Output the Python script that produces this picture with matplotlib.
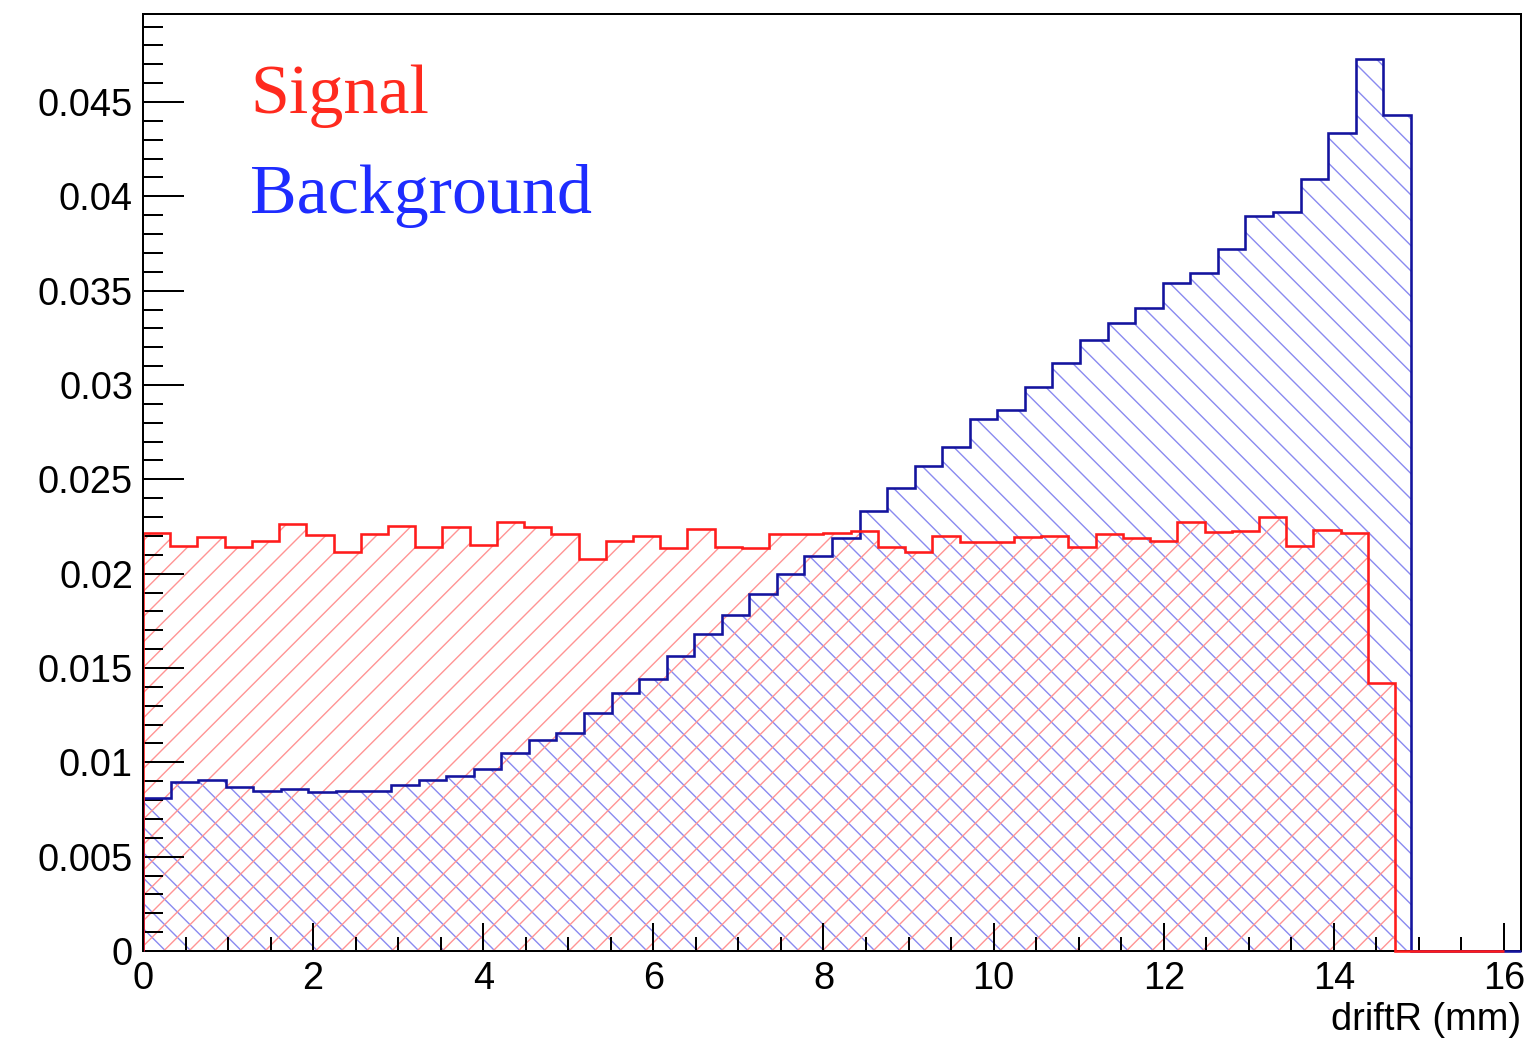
import numpy as np
import matplotlib
matplotlib.use("Agg")
import matplotlib.pyplot as plt
from matplotlib.ticker import MultipleLocator, FuncFormatter

# Normalised driftR distributions (50 bins each)
signal = [
    0.02216, 0.02145, 0.02195, 0.02140, 0.02175, 0.02264, 0.02204, 0.02115, 0.02211, 0.02255,
    0.02142, 0.02246, 0.02151, 0.02276, 0.02249, 0.02208, 0.02080, 0.02175, 0.02200, 0.02134,
    0.02236, 0.02144, 0.02136, 0.02211, 0.02211, 0.02218, 0.02226, 0.02139, 0.02115, 0.02202,
    0.02166, 0.02166, 0.02196, 0.02202, 0.02142, 0.02211, 0.02190, 0.02175, 0.02274, 0.02221,
    0.02228, 0.02303, 0.02145, 0.02234, 0.02213, 0.01421, 0.0, 0.0, 0.0, 0.0,
]
background = [
    0.00809, 0.00897, 0.00904, 0.00867, 0.00849, 0.00860, 0.00842, 0.00849, 0.00846, 0.00881,
    0.00904, 0.00928, 0.00967, 0.01050, 0.01116, 0.01155, 0.01261, 0.01365, 0.01442, 0.01562,
    0.01681, 0.01779, 0.01893, 0.01999, 0.02094, 0.02190, 0.02333, 0.02453, 0.02571, 0.02674,
    0.02821, 0.02868, 0.02991, 0.03119, 0.03236, 0.03329, 0.03407, 0.03539, 0.03595, 0.03721,
    0.03894, 0.03919, 0.04094, 0.04335, 0.04730, 0.04430, 0.0, 0.0, 0.0, 0.0,
]
signal_range = (0.0, 16.0)
background_range = (0.0, 16.2)
n_bins = 50

legend_labels = ["Signal", "Background"]
x_title = "driftR (mm)"

DPI = 76
W, H = 1538, 1040
PX = 72.0 / DPI  # points per pixel

plt.rcParams["hatch.linewidth"] = 1.4 * PX
plt.rcParams["font.family"] = ["Liberation Sans", "DejaVu Sans"]

fig = plt.figure(figsize=(W / DPI, H / DPI), dpi=DPI)
fig.patch.set_facecolor("white")
ax = fig.add_axes([143 / W, 89 / H, 1378 / W, 937 / H])

sig_edges = np.linspace(signal_range[0], signal_range[1], n_bins + 1)
bkg_edges = np.linspace(background_range[0], background_range[1], n_bins + 1)

# hatched fills
ax.stairs(background, bkg_edges, fill=True, facecolor="none",
          edgecolor="#8a8af0", hatch="\\", linewidth=0, zorder=1)
ax.stairs(signal, sig_edges, fill=True, facecolor="none",
          edgecolor="#ff9494", hatch="/", linewidth=0, zorder=1.1)
# outlines
ax.stairs(background, bkg_edges, color="#14149e", linewidth=2.6 * PX,
          zorder=3, clip_on=False)
ax.stairs(signal, sig_edges, color="#ff1c1c", linewidth=2.6 * PX,
          zorder=3.1, clip_on=False)

ax.set_xlim(background_range)
ax.set_ylim(0, 1.05 * max(background))

for sp in ax.spines.values():
    sp.set_linewidth(2.0 * PX)
    sp.set_color("black")
ax.spines["left"].set_zorder(4)

ax.xaxis.set_major_locator(MultipleLocator(2))
ax.xaxis.set_minor_locator(MultipleLocator(0.5))
ax.yaxis.set_major_locator(MultipleLocator(0.005))
ax.yaxis.set_minor_locator(MultipleLocator(0.001))
fmt = FuncFormatter(lambda v, _: f"{v:g}")
ax.xaxis.set_major_formatter(fmt)
ax.yaxis.set_major_formatter(fmt)

ax.tick_params(which="both", direction="in", top=False, right=False,
               width=2.0 * PX, color="black", labelsize=38 * PX)
ax.xaxis.set_tick_params(which="major", length=28 * PX, pad=10 * PX)
ax.xaxis.set_tick_params(which="minor", length=14 * PX)
ax.yaxis.set_tick_params(which="major", length=41 * PX, pad=10 * PX)
ax.yaxis.set_tick_params(which="minor", length=20.5 * PX)

serif = ["Liberation Serif", "DejaVu Serif"]
ax.text(0.0777, 0.894, legend_labels[0], transform=ax.transAxes,
        color="#ff2a1e", fontsize=70 * PX, family=serif, va="baseline", ha="left")
ax.text(0.0777, 0.7876, legend_labels[1], transform=ax.transAxes,
        color="#1e2cff", fontsize=70 * PX, family=serif, va="baseline", ha="left")

fig.text(1521 / W, 10 / H, x_title, ha="right", va="baseline", fontsize=38 * PX)

fig.savefig("out.png", dpi=DPI)
